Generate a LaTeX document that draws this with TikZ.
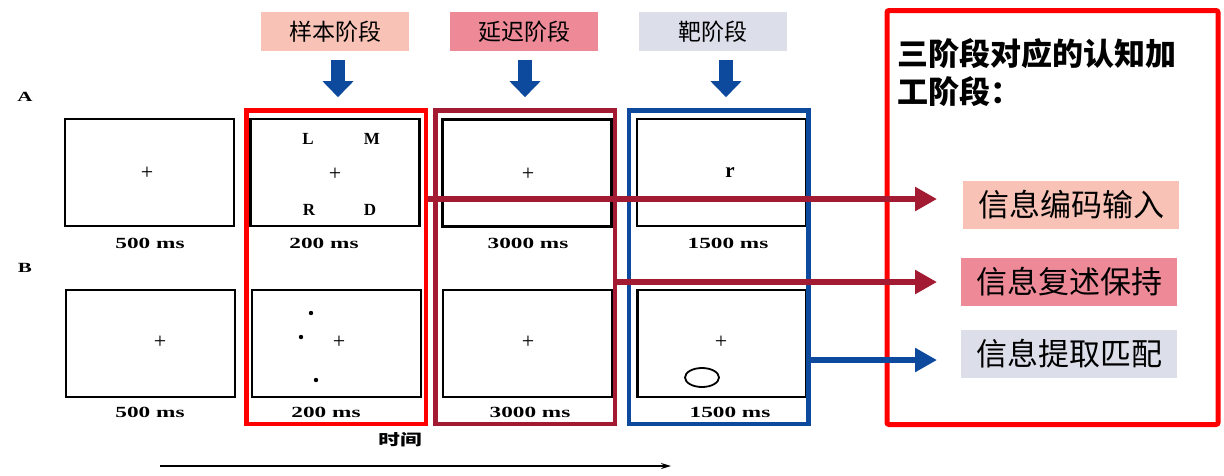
\documentclass[tikz,border=0pt]{standalone}
\usepackage{fontspec}
\setmainfont{Liberation Serif}
\newfontfamily\cjk{Noto Sans CJK SC}
\usetikzlibrary{arrows.meta}
\definecolor{stageS}{HTML}{F8C3B6}
\definecolor{stageD}{HTML}{EE8A98}
\definecolor{stageT}{HTML}{DCDFEA}
\definecolor{frameR}{HTML}{FF0000}
\definecolor{frameD}{HTML}{A31B33}
\definecolor{frameB}{HTML}{0D4A9E}
\newcommand\stretchx[1]{\scalebox{1.5}[1]{#1}}

\begin{document}
\begin{tikzpicture}[x=1pt, y=-1pt,
  panel/.style={draw=black, line width=2.2pt, minimum width=169, minimum height=107, inner sep=0},
  phase/.style={line width=4.5pt, minimum width=179.5, minimum height=313.5, inner sep=0},
  stagelbl/.style={minimum width=148, minimum height=39, inner sep=0, font=\cjk\fontsize{23}{23}\selectfont},
  proclbl/.style={minimum width=216, minimum height=48, inner sep=0, font=\cjk\fontsize{31}{31}\selectfont},
  mslbl/.style={font=\bfseries\fontsize{15.5}{15.5}\selectfont},
  fix/.style={font=\fontsize{22}{22}\selectfont, inner sep=0},
  letter/.style={font=\bfseries\fontsize{17}{17}\selectfont, inner sep=0},
  dnarrow/.style={draw=frameB, line width=14pt, -{Triangle[length=16pt, width=30pt]}},
  linkarrow/.style={line width=6pt, -{Triangle[length=22pt, width=23pt]}}]
  \useasboundingbox (0,0) rectangle (1224,475);

  % stage labels
  \node[stagelbl, fill=stageS] (ls) at (335,31.5) {样本阶段};
  \node[stagelbl, fill=stageD] (ld) at (524,31.5) {延迟阶段};
  \node[stagelbl, fill=stageT] (lt) at (713,31.5) {靶阶段};
  \draw[dnarrow] ([xshift=3]ls.south) ++(0,9) -- ++(0,37);
  \draw[dnarrow] ([xshift=1]ld.south) ++(0,9) -- ++(0,37);
  \draw[dnarrow] ([xshift=13]lt.south) ++(0,9) -- ++(0,37);

  \node[font=\bfseries\fontsize{14}{14}\selectfont] (rowA) at (25,97) {\stretchx{A}};
  \node[font=\bfseries\fontsize{14}{14}\selectfont] (rowB) at (25,268) {\stretchx{B}};

  % row A
  \node[panel] (a1) at (149.5,172.5) {};
  \node[panel] (a2) at (335,172.5) {};
  \node[panel] (a3) at (527,173) {};
  \node[panel] (a4) at (721.5,172.5) {};
  \node[fix] (a1x) at (147,173) {+};
  \node[fix] (a2x) at (335,174) {+};
  \node[letter] (la) at (308,139) {L};
  \node[letter] (ma) at (372,139) {M};
  \node[letter] (ra) at (309,210) {R};
  \node[letter] (da) at (370,210) {D};
  \node[fix] (a3x) at (528,174) {+};
  \node[font=\bfseries\fontsize{21}{21}\selectfont, inner sep=0] (a4r) at (730,173) {r};
  \node[mslbl] (ta1) at (150,243) {\stretchx{500 ms}};
  \node[mslbl] (ta2) at (324,243) {\stretchx{200 ms}};
  \node[mslbl] (ta3) at (528,243) {\stretchx{3000 ms}};
  \node[mslbl] (ta4) at (728,243) {\stretchx{1500 ms}};

  % row B
  \node[panel] (b1) at (150.5,343.5) {};
  \node[panel] (b2) at (336.5,343.5) {};
  \node[panel] (b3) at (527.5,343.5) {};
  \node[panel] (b4) at (722,343.5) {};
  \node[fix] (b1x) at (160,342) {+};
  \node[fix] (b2x) at (339,342) {+};
  \fill (311,313) circle (2.2) (301,337) circle (2.2) (316,380) circle (2.2);
  \node[fix] (b3x) at (528,342) {+};
  \node[fix] (b4x) at (721,342) {+};
  \draw[line width=1.8pt] (702,377.5) ellipse (17 and 9.5);
  \node[mslbl] (tb1) at (150,412) {\stretchx{500 ms}};
  \node[mslbl] (tb2) at (326,412) {\stretchx{200 ms}};
  \node[mslbl] (tb3) at (530,412) {\stretchx{3000 ms}};
  \node[mslbl] (tb4) at (730,412) {\stretchx{1500 ms}};

  % phase frames
  \node[phase, draw=frameR] (fs) at (336.25,267.25) {};
  \node[phase, draw=frameD] (fd) at (525.25,267.25) {};
  \node[phase, draw=frameB] (ft) at (718.75,267.25) {};

  % time axis
  \node[font=\cjk\bfseries\fontsize{18}{18}\selectfont] (time) at (400,440) {\scalebox{1.2}[0.85]{时间}};
  \coordinate (t0) at (160,466);
  \coordinate (t1) at (671,466);
  \draw[line width=1.6pt, -{Stealth[length=10pt, width=6pt]}] (t0) -- (t1);

  % cognitive stages
  \node[draw=frameR, line width=5pt, rounded corners=2pt, minimum width=331, minimum height=414, inner sep=0] (cog) at (1052.5,217.5) {};
  \node[anchor=north west, align=left, inner sep=0, font=\cjk\bfseries\fontsize{31}{38}\selectfont] (title) at (897,38) {三阶段对应的认知加\\工阶段：};
  \node[proclbl, fill=stageS] (enc) at (1071,204.5) {信息编码输入};
  \node[proclbl, fill=stageD] (keep) at (1069,282) {信息复述保持};
  \node[proclbl, fill=stageT] (match) at (1069,354) {信息提取匹配};

  \coordinate (e1) at (937,199);
  \coordinate (e2) at (937,282);
  \coordinate (e3) at (937,360);
  \draw[linkarrow, draw=frameD] (fs.east |- e1) -- (e1);
  \draw[linkarrow, draw=frameD] (fd.east |- e2) -- (e2);
  \draw[linkarrow, draw=frameB] (ft.east |- e3) -- (e3);
\end{tikzpicture}
\end{document}
